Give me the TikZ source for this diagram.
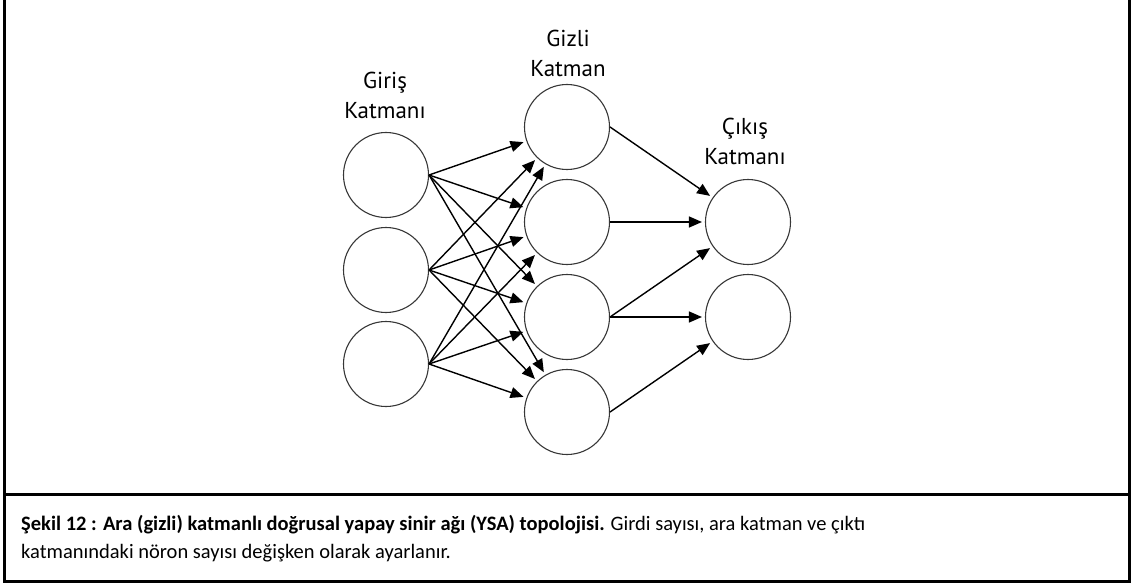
\documentclass[tikz,border=0pt]{standalone}
\usepackage{fontspec}
\setmainfont{Carlito}
\newfontfamily\labelfont{PT Sans}
\usetikzlibrary{arrows.meta}
\definecolor{ringgray}{RGB}{55,55,55}

\begin{document}
\begin{tikzpicture}[x=1pt,y=-1pt,
  neuron/.style={circle, draw=ringgray, line width=1.1pt, minimum size=85pt, inner sep=0pt},
  link/.style={line width=1.4pt, -{Triangle[length=13pt,width=11pt]}, shorten >=3pt},
  layertitle/.style={font=\labelfont\fontsize{23}{30}\selectfont, align=center}]
\useasboundingbox (0,0) rectangle (1135,583);
% frame and caption rule
\draw[line width=3pt] (4,0) -- (4,581) -- (1129,581) -- (1129,0);
\draw[line width=3pt] (4,494) -- (1129,494);
% neurons
\foreach \i/\y in {1/175, 2/270, 3/364}
  \node[neuron] (in\i) at (386,\y) {};
\foreach \i/\y in {1/127, 2/222, 3/317, 4/412}
  \node[neuron] (hid\i) at (567,\y) {};
\foreach \i/\y in {1/222, 2/317}
  \node[neuron] (out\i) at (748,\y) {};
% layer titles
\node[layertitle] (tin) at (385,95) {Giriş\\Katmanı};
\node[layertitle] (thid) at (568,53) {Gizli\\Katman};
\node[layertitle] (tout) at (745,141) {Çıkış\\Katmanı};
% connections
\foreach \a in {1,2,3}
  \foreach \b in {1,2,3,4}
    \draw[link] (in\a.east) -- (hid\b);
\foreach \a/\b in {1/1, 2/1, 3/1, 3/2, 4/2}
  \draw[link] (hid\a.east) -- (out\b);
% caption
\node[anchor=north west, align=left, inner sep=0pt, font=\fontsize{20.5}{28}\selectfont] (cap) at (21,515)
  {\textbf{Şekil 12 : Ara (gizli) katmanlı doğrusal yapay sinir ağı (YSA) topolojisi.} Girdi sayısı, ara katman ve çıktı\\
   katmanındaki nöron sayısı değişken olarak ayarlanır.};
\end{tikzpicture}
\end{document}
